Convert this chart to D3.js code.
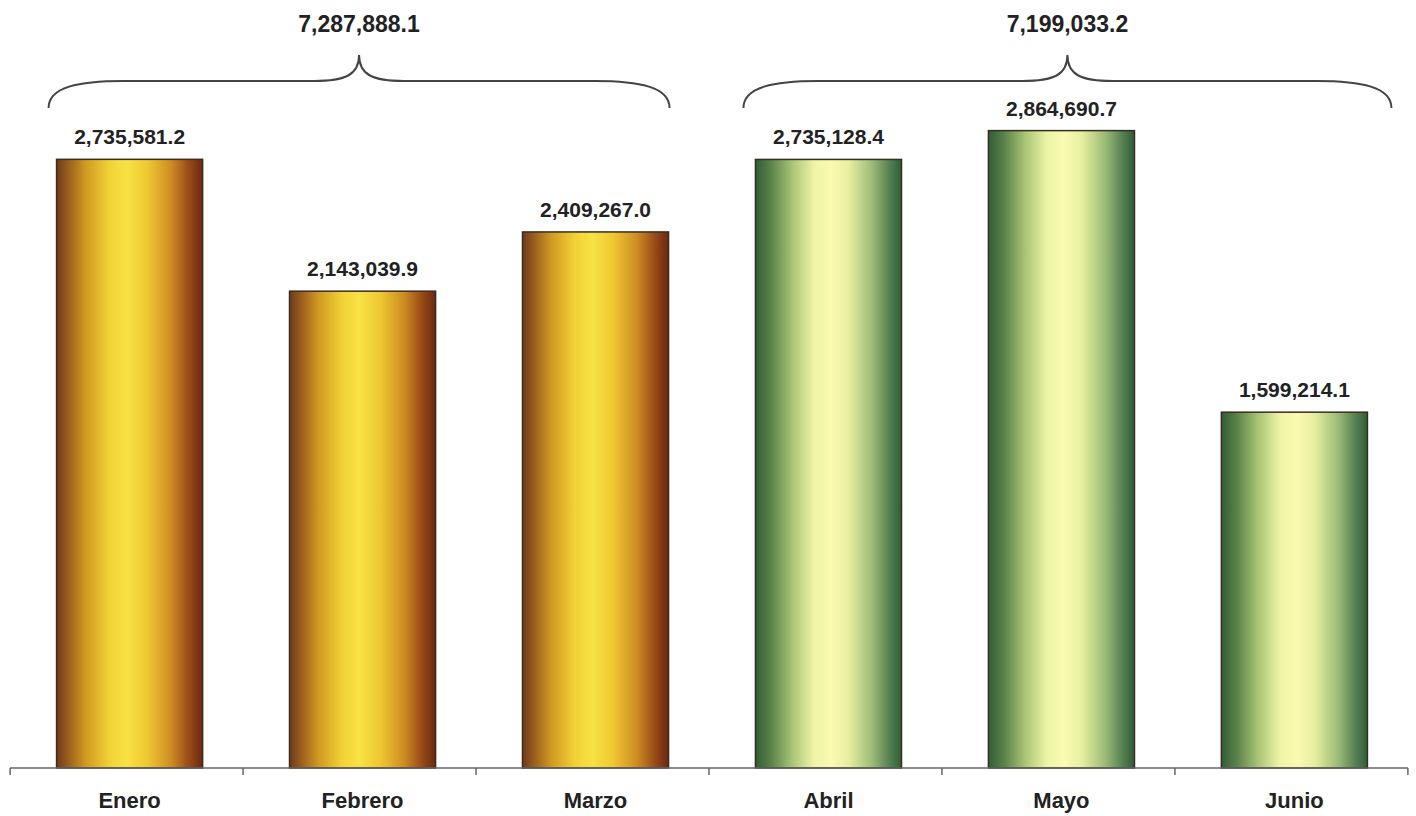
<!DOCTYPE html>
<html>
<head>
<meta charset="utf-8">
<script src="https://cdn.jsdelivr.net/npm/d3@7"></script>
<style>
  html, body { margin: 0; padding: 0; background: #ffffff; }
  svg { display: block; }
  text { font-family: "Liberation Sans", Arial, sans-serif; font-weight: bold; fill: #222; }
</style>
</head>
<body>
<svg id="chart" width="1416" height="816"></svg>
<script>
// ---- Data ----
const months = ["Enero", "Febrero", "Marzo", "Abril", "Mayo", "Junio"];
const values = [2735581.2, 2143039.9, 2409267.0, 2735128.4, 2864690.7, 1599214.1];
const groupOf = ["q1", "q1", "q1", "q2", "q2", "q2"];
const groupNames = ["q1", "q2"];
const groupMembers = [["Enero", "Marzo"], ["Abril", "Junio"]];
const groupTotals = [7287888.1, 7199033.2];

// ---- Layout ----
const baseY = 768;
const svg = d3.select("#chart");

const x = d3.scaleBand().domain(months).range([13, 1411]).paddingInner(0.373).paddingOuter(0.187);
const y = d3.scaleLinear().domain([0, 3000000]).range([baseY, baseY - 3000000 * 2.225e-4]);

const fmt = v => d3.format(",.1f")(v);

// ---- Gradients ----
const defs = svg.append("defs");
const gold = defs.append("linearGradient").attr("id", "g-q1").attr("x1", "0%").attr("x2", "100%").attr("y1", "0%").attr("y2", "0%");
[[0, "#6e3b1a"], [0.08, "#9a5e1e"], [0.2, "#d19a22"], [0.36, "#f2d236"], [0.48, "#f8e244"], [0.62, "#efc832"], [0.78, "#cf8e22"], [0.9, "#9c4e18"], [1, "#6a2810"]]
  .forEach(([o, c]) => gold.append("stop").attr("offset", o).attr("stop-color", c));
const green = defs.append("linearGradient").attr("id", "g-q2").attr("x1", "0%").attr("x2", "100%").attr("y1", "0%").attr("y2", "0%");
[[0, "#2f5e36"], [0.1, "#587f48"], [0.25, "#a8c474"], [0.4, "#eef4a6"], [0.52, "#fafbb0"], [0.64, "#e6eea0"], [0.8, "#9cbb76"], [0.92, "#557f52"], [1, "#2e5e38"]]
  .forEach(([o, c]) => green.append("stop").attr("offset", o).attr("stop-color", c));

// ---- Bars ----
const data = months.map((m, i) => ({ month: m, value: values[i], group: groupOf[i] }));

svg.append("g").selectAll("rect").data(data).join("rect")
  .attr("x", d => x(d.month))
  .attr("y", d => y(d.value))
  .attr("width", x.bandwidth())
  .attr("height", d => baseY - y(d.value))
  .attr("fill", d => `url(#g-${d.group})`)
  .attr("stroke", "#3a2c20")
  .attr("stroke-width", 1.5);

// ---- Value labels ----
svg.append("g").selectAll("text").data(data).join("text")
  .attr("x", d => x(d.month) + x.bandwidth() / 2)
  .attr("y", d => y(d.value) - 15)
  .attr("text-anchor", "middle")
  .style("font-size", "21px")
  .text(d => fmt(d.value));

// ---- Axis ----
const axisG = svg.append("g").attr("transform", `translate(0,${baseY})`);
axisG.append("line").attr("x1", 10).attr("x2", 1408).attr("y1", 0).attr("y2", 0)
  .attr("stroke", "#666").attr("stroke-width", 1.5);
const halfGap = x.step() * x.paddingInner() / 2;
const tickXs = months.map(m => x(m) - halfGap - 3).concat([x(months[months.length - 1]) + x.bandwidth() + halfGap - 3]);
axisG.selectAll("line.tick").data(tickXs).join("line").attr("class", "tick")
  .attr("x1", d => d).attr("x2", d => d).attr("y1", 0).attr("y2", 7)
  .attr("stroke", "#666").attr("stroke-width", 1.5);
axisG.selectAll("text").data(months).join("text")
  .attr("x", m => x(m) + x.bandwidth() / 2)
  .attr("y", 40)
  .attr("text-anchor", "middle")
  .style("font-size", "22px")
  .text(m => m);

// ---- Braces ----
const bracePad = [[-8, 1], [-12, 24]];
groupNames.forEach((g, i) => {
  const [a, b] = groupMembers[i];
  const x0 = x(a) + bracePad[i][0];
  const x1 = x(b) + x.bandwidth() + bracePad[i][1];
  const xm = (x0 + x1) / 2;
  const yEnd = 108, yH = 81, yTop = 55;
  const p = d3.path();
  p.moveTo(x0, yEnd);
  p.bezierCurveTo(x0, yH + 6, x0 + 30, yH, x0 + 75, yH);
  p.lineTo(xm - 45, yH);
  p.bezierCurveTo(xm - 14, yH, xm, yH - 6, xm, yTop);
  p.bezierCurveTo(xm, yH - 6, xm + 14, yH, xm + 45, yH);
  p.lineTo(x1 - 75, yH);
  p.bezierCurveTo(x1 - 30, yH, x1, yH + 6, x1, yEnd);
  svg.append("path").attr("d", p.toString()).attr("fill", "none")
    .attr("stroke", "#444").attr("stroke-width", 2);
  svg.append("text").attr("x", xm).attr("y", 32).attr("text-anchor", "middle")
    .style("font-size", "23px").text(fmt(groupTotals[i]));
});
</script>
</body>
</html>
